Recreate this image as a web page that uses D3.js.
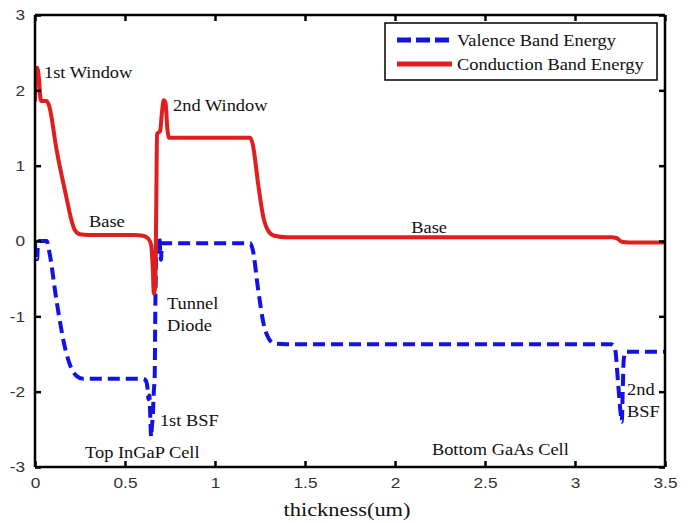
<!DOCTYPE html>
<html><head><meta charset="utf-8">
<script src="https://cdn.jsdelivr.net/npm/d3@7/dist/d3.min.js"></script>
<style>
body{margin:0;background:#fff;}
svg{display:block;}
</style></head>
<body>
<svg id="chart" width="689" height="523"></svg>
<script>
// ---- data ----
const xTicks = [0, 0.5, 1, 1.5, 2, 2.5, 3, 3.5];
const xTickLabels = ["0", "0.5", "1", "1.5", "2", "2.5", "3", "3.5"];
const yTicks = [-3, -2, -1, 0, 1, 2, 3];
const yTickLabels = ["-3", "-2", "-1", "0", "1", "2", "3"];

const seriesNames = ["Valence Band Energy", "Conduction Band Energy"];

const valenceX = [0, 0.004, 0.012, 0.016, 0.022, 0.065, 0.08, 0.12, 0.17, 0.2, 0.23, 0.27, 0.6, 0.615, 0.625, 0.63, 0.635, 0.64, 0.645, 0.65, 0.655, 0.66, 0.665, 0.668, 0.672, 0.676, 0.685, 0.69, 0.7, 0.705, 0.75, 1.195, 1.21, 1.24, 1.27, 1.3, 1.33, 1.4, 3.2, 3.22, 3.24, 3.25, 3.26, 3.265, 3.27, 3.28, 3.5];
const valenceE = [0, -0.22, -0.24, -0.05, 0, 0, -0.15, -0.8, -1.45, -1.68, -1.79, -1.83, -1.83, -1.85, -1.95, -2.1, -2.05, -2.3, -2.6, -2.45, -2.3, -2.0, -1.8, -1.0, -0.3, 0.05, -0.2, 0.05, -0.25, -0.03, -0.03, -0.03, -0.12, -0.65, -1.1, -1.3, -1.36, -1.37, -1.37, -1.4, -1.9, -2.2, -2.4, -2.0, -1.6, -1.47, -1.47];

const conductionX = [0, 0.005, 0.012, 0.022, 0.03, 0.035, 0.065, 0.08, 0.12, 0.178, 0.2, 0.22, 0.25, 0.3, 0.55, 0.6, 0.63, 0.645, 0.655, 0.66, 0.668, 0.673, 0.678, 0.695, 0.705, 0.715, 0.725, 0.735, 0.745, 0.76, 1.195, 1.21, 1.24, 1.27, 1.3, 1.33, 1.4, 3.2, 3.23, 3.26, 3.3, 3.5];
const conductionE = [1.85, 2.2, 2.3, 2.15, 1.9, 1.86, 1.86, 1.78, 1.21, 0.54, 0.3, 0.15, 0.09, 0.08, 0.08, 0.07, 0.03, -0.05, -0.4, -0.7, -0.6, 0.3, 1.42, 1.46, 1.7, 1.87, 1.84, 1.5, 1.37, 1.37, 1.37, 1.28, 0.75, 0.3, 0.12, 0.07, 0.05, 0.05, 0.04, -0.01, -0.02, -0.02];

const annotations = [
  {text: "1st Window", x: 0.05, y: 2.16},
  {text: "2nd Window", x: 0.767, y: 1.72},
  {text: "Base", x: 0.3, y: 0.18},
  {text: "Base", x: 2.09, y: 0.1},
  {text: "Tunnel", x: 0.733, y: -0.9},
  {text: "Diode", x: 0.733, y: -1.2},
  {text: "1st BSF", x: 0.694, y: -2.46},
  {text: "Top InGaP Cell", x: 0.278, y: -2.88},
  {text: "Bottom GaAs Cell", x: 2.205, y: -2.84},
  {text: "2nd", x: 3.289, y: -2.04},
  {text: "BSF", x: 3.289, y: -2.34}
];
const xLabel = "thickness(um)";

// ---- layout ----
const svg = d3.select("#chart");
const L = 35, R = 665, T = 15, B = 467;
const x = d3.scaleLinear().domain([0, 3.5]).range([L, R]);
const y = d3.scaleLinear().domain([-3, 3]).range([B, T]);
const SX = 1.15;
const blue = "#1212e6", red = "#e01e1e";

const line = d3.line().x(d => x(d[0])).y(d => y(d[1])).curve(d3.curveMonotoneX);
const valence = valenceX.map((v, i) => [v, valenceE[i]]);
const conduction = conductionX.map((v, i) => [v, conductionE[i]]);

svg.append("clipPath").attr("id", "clip").append("rect")
  .attr("x", L).attr("y", T).attr("width", R - L).attr("height", B - T);

const g = svg.append("g").attr("clip-path", "url(#clip)");
g.append("path").datum(valence).attr("d", line)
  .attr("fill", "none").attr("stroke", blue).attr("stroke-width", 4)
  .attr("stroke-dasharray", "12,6").attr("stroke-linejoin", "round");
g.append("path").datum(conduction).attr("d", line)
  .attr("fill", "none").attr("stroke", red).attr("stroke-width", 4)
  .attr("stroke-linejoin", "round");

// axes (inward ticks on all sides)
const tl = 6;
const axB = d3.axisBottom(x).tickValues(xTicks).tickSize(-tl).tickFormat((d, i) => xTickLabels[i]).tickPadding(10);
const axT = d3.axisTop(x).tickValues(xTicks).tickSize(-tl).tickFormat("");
const axL = d3.axisLeft(y).tickValues(yTicks).tickSize(-tl).tickFormat((d, i) => yTickLabels[i]).tickPadding(10);
const axR = d3.axisRight(y).tickValues(yTicks).tickSize(-tl).tickFormat("");

function styleAxis(sel) {
  sel.select(".domain").attr("stroke", "#000").attr("stroke-width", 2.5);
  sel.selectAll(".tick line").attr("stroke", "#000").attr("stroke-width", 2.5);
  sel.selectAll(".tick text").attr("fill", "#333").style("font-family", "'Liberation Sans', Arial, sans-serif").style("font-size", "15px");
}
const gB = svg.append("g").attr("transform", `translate(0,${B})`).call(axB); styleAxis(gB);
const gT = svg.append("g").attr("transform", `translate(0,${T})`).call(axT); styleAxis(gT);
const gL = svg.append("g").attr("transform", `translate(${L},0)`).call(axL); styleAxis(gL);
const gR = svg.append("g").attr("transform", `translate(${R},0)`).call(axR); styleAxis(gR);
gB.selectAll(".domain").attr("d", `M${L},0H${R}`);
gT.selectAll(".domain").attr("d", `M${L},0H${R}`);
gL.selectAll(".domain").attr("d", `M0,${T}V${B}`);
gR.selectAll(".domain").attr("d", `M0,${T}V${B}`);
gB.selectAll(".tick text").attr("transform", `scale(${SX},1)`).attr("x", 0);
gL.selectAll(".tick text").attr("transform", `translate(-10,0) scale(${SX},1)`).attr("x", 0);

// annotations
const serif = "'Liberation Serif', 'Times New Roman', serif";
svg.append("g").selectAll("text").data(annotations).join("text")
  .attr("transform", d => `translate(${x(d.x)},${y(d.y)}) scale(${SX},1)`)
  .attr("font-family", serif).attr("font-size", 16).attr("fill", "#111")
  .text(d => d.text);

// x label
svg.append("text")
  .attr("transform", `translate(${(L + R) / 2 - 3},${516}) scale(${SX},1)`)
  .attr("text-anchor", "middle").attr("font-family", serif).attr("font-size", 19.5).attr("fill", "#111")
  .text(xLabel);

// legend
const lg = svg.append("g");
lg.append("rect").attr("x", 385).attr("y", 23).attr("width", 272).attr("height", 57)
  .attr("fill", "#fff").attr("stroke", "#000").attr("stroke-width", 1.5);
const legItems = [
  {name: seriesNames[0], color: blue, dash: "14,5"},
  {name: seriesNames[1], color: red, dash: null}
];
legItems.forEach((it, i) => {
  const yy = 40 + i * 24;
  lg.append("line").attr("x1", 397).attr("x2", 452).attr("y1", yy).attr("y2", yy)
    .attr("stroke", it.color).attr("stroke-width", 5)
    .attr("stroke-dasharray", it.dash);
  lg.append("text").attr("transform", `translate(457,${yy + 6}) scale(${SX},1)`)
    .attr("font-family", serif).attr("font-size", 16).attr("fill", "#111").text(it.name);
});
</script>
</body></html>
